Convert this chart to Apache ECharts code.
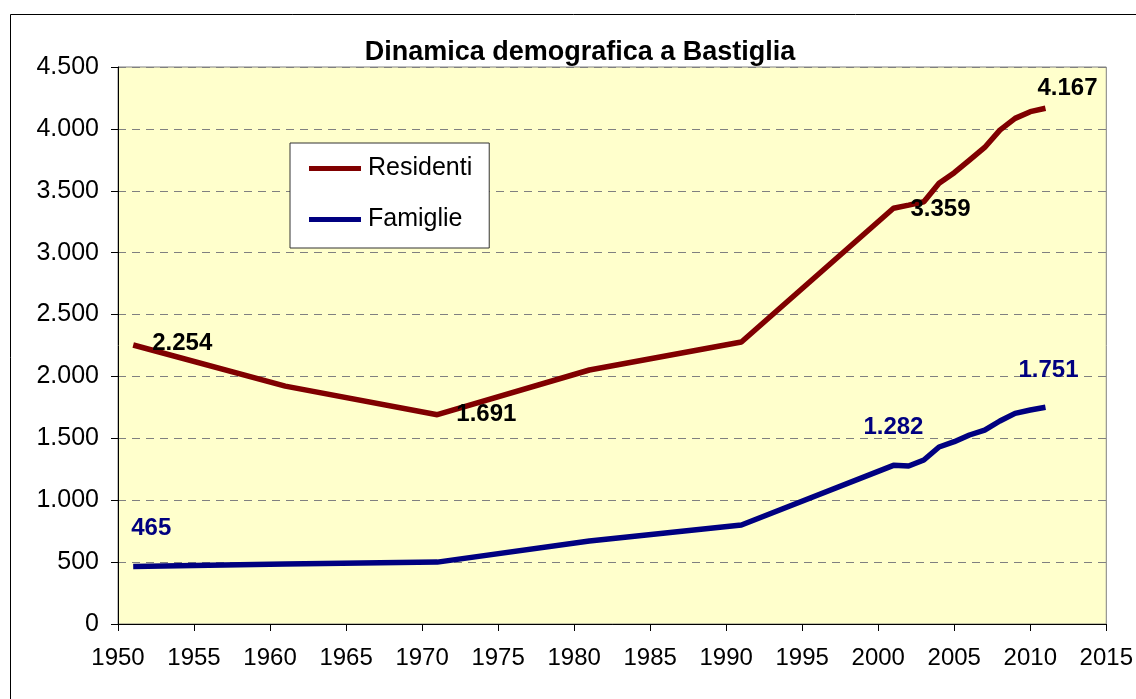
<!DOCTYPE html>
<html>
<head>
<meta charset="utf-8">
<script src="https://cdn.jsdelivr.net/npm/echarts@6/dist/echarts.min.js"></script>
<style>
  html, body { margin: 0; padding: 0; background: #fff; }
  #main { width: 1136px; height: 699px; }
</style>
</head>
<body>
<div id="main"></div>
<script>
// years of the observations
var years = [1951, 1961, 1971, 1981, 1991, 2001, 2002, 2003, 2004, 2005, 2006, 2007, 2008, 2009, 2010, 2011];
// population (Residenti)
var residenti = [2254, 1922, 1691, 2052, 2278, 3359, 3384, 3411, 3560, 3646, 3748, 3850, 3990, 4085, 4139, 4167];
// households (Famiglie)
var famiglie = [465, 485, 500, 670, 800, 1282, 1276, 1325, 1430, 1473, 1527, 1567, 1640, 1702, 1729, 1751];

// which points get a value label, and how
var resLabels = {
    1951: { position: 'right', distance: 19, offset: [0, -2] },
    1971: { position: 'right', distance: 19, offset: [0, 0] },
    2001: { position: 'right', distance: 17, offset: [0, 1] },
    2011: { position: 'top', distance: 8, offset: [22, 0] }
};
var famLabels = {
    1951: { position: 'top', distance: 26, offset: [18, 0] },
    2001: { position: 'top', distance: 26, offset: [0, 0] },
    2011: { position: 'top', distance: 25, offset: [3, 0] }
};

function fmt(v) {
    return String(v).replace(/\B(?=(\d{3})+(?!\d))/g, '.');
}

var font = 'Liberation Sans, Arial, sans-serif';

function buildData(values, labels, color) {
    return years.map(function (y, i) {
        var item = { value: [y, values[i]] };
        if (labels[y]) {
            item.label = Object.assign({
                show: true,
                color: color,
                fontSize: 24,
                fontWeight: 'bold',
                fontFamily: font,
                formatter: function (p) { return fmt(p.value[1]); }
            }, labels[y]);
        }
        return item;
    });
}

var chart = echarts.init(document.getElementById('main'));

var option = {
    animation: false,
    backgroundColor: '#fff',
    title: {
        text: 'Dinamica demografica a Bastiglia',
        left: 575,
        textAlign: 'center',
        top: 34,
        textStyle: { fontFamily: font, fontSize: 27, fontWeight: 'bold', color: '#000' }
    },
    graphic: [
        {
            type: 'rect',
            shape: { x: 10.5, y: 14.5, width: 1140, height: 700 },
            style: { fill: 'none', stroke: '#000', lineWidth: 1 },
            silent: true,
            z: -10
        }
    ],
    grid: {
        left: 118, top: 67, right: 29, bottom: 75,
        show: true,
        backgroundColor: '#FFFFCC',
        borderColor: '#808080',
        borderWidth: 1
    },
    legend: {
        orient: 'vertical',
        left: 290,
        top: 143,
        padding: [13, 17, 16, 19],
        itemGap: 26,
        backgroundColor: '#fff',
        borderColor: '#333',
        borderWidth: 1,
        itemWidth: 52,
        itemHeight: 5,
        icon: 'rect',
        textStyle: { fontFamily: font, fontSize: 25, color: '#000', padding: [0, 0, 0, 2] },
        data: ['Residenti', 'Famiglie']
    },
    xAxis: {
        type: 'value',
        min: 1950,
        max: 2015,
        interval: 5,
        axisLine: { show: true, lineStyle: { color: '#000', width: 1 } },
        axisTick: { show: true, length: 7, lineStyle: { color: '#000' } },
        axisLabel: { fontFamily: font, fontSize: 24, color: '#000', margin: 22, formatter: function (v) { return String(v); } },
        splitLine: { show: false }
    },
    yAxis: {
        type: 'value',
        min: 0,
        max: 4500,
        interval: 500,
        axisLine: { show: true, lineStyle: { color: '#000', width: 1 } },
        axisTick: { show: true, length: 7, lineStyle: { color: '#000' } },
        axisLabel: { fontFamily: font, fontSize: 25, color: '#000', margin: 19, formatter: fmt },
        splitLine: { show: true, lineStyle: { color: '#808080', type: [8, 6], width: 1 } }
    },
    series: [
        {
            name: 'Residenti',
            type: 'line',
            symbol: 'circle',
            symbolSize: 0,
            color: '#800000',
            lineStyle: { width: 5.5, color: '#800000' },
            data: buildData(residenti, resLabels, '#000')
        },
        {
            name: 'Famiglie',
            type: 'line',
            symbol: 'circle',
            symbolSize: 0,
            color: '#000080',
            lineStyle: { width: 5.5, color: '#000080' },
            data: buildData(famiglie, famLabels, '#000080')
        }
    ]
};

chart.setOption(option);
</script>
</body>
</html>
